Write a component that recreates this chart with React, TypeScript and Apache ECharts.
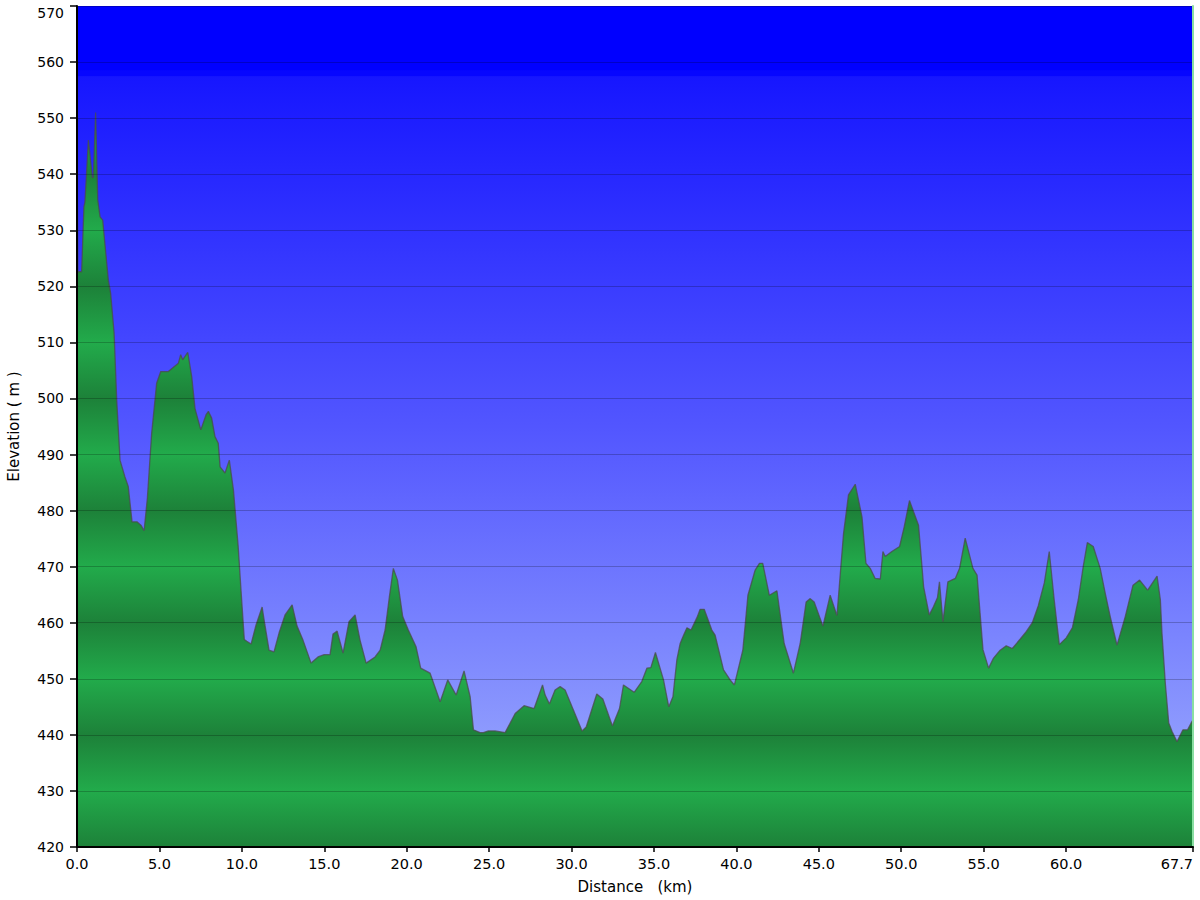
import React, { useEffect, useRef } from 'react';
import * as echarts from 'echarts';

// Distance along route (km)
const distKm = [0, 0.05, 0.28, 0.42, 0.48, 0.69, 0.93, 0.99, 1.13, 1.26, 1.40, 1.56, 1.90, 2.04, 2.25, 2.41, 2.61, 2.91, 3.11, 3.34, 3.64, 3.88, 4.07, 4.27, 4.53, 4.83, 5.08, 5.54, 6.15, 6.29, 6.41, 6.72, 6.96, 7.16, 7.51, 7.83, 7.97, 8.17, 8.37, 8.57, 8.68, 8.98, 9.24, 9.49, 9.77, 9.95, 10.15, 10.3, 10.56, 10.86, 11.23, 11.4, 11.65, 11.95, 12.26, 12.62, 13.05, 13.35, 13.71, 14.2, 14.62, 14.99, 15.35, 15.53, 15.78, 16.14, 16.5, 16.87, 17.17, 17.54, 18.08, 18.39, 18.69, 18.95, 19.19, 19.44, 19.76, 20.1, 20.57, 20.85, 21.42, 22.03, 22.49, 23.0, 23.48, 23.85, 24.05, 24.45, 24.65, 24.96, 25.36, 25.97, 26.58, 27.12, 27.73, 28.24, 28.4, 28.66, 29.0, 29.31, 29.61, 30.12, 30.64, 30.89, 31.53, 31.9, 32.48, 32.91, 33.15, 33.8, 34.26, 34.57, 34.81, 35.09, 35.58, 35.9, 36.15, 36.39, 36.59, 36.77, 37.0, 37.25, 37.62, 37.8, 38.05, 38.51, 38.71, 39.22, 39.62, 39.88, 40.39, 40.7, 41.14, 41.4, 41.6, 42.0, 42.46, 42.9, 43.46, 43.87, 44.23, 44.48, 44.72, 45.25, 45.69, 46.1, 46.5, 46.8, 47.21, 47.62, 47.86, 48.12, 48.42, 48.73, 48.89, 49.03, 49.43, 49.9, 50.18, 50.5, 51.05, 51.36, 51.7, 51.96, 52.2, 52.32, 52.53, 52.83, 53.28, 53.54, 53.88, 54.35, 54.6, 54.96, 55.3, 55.6, 56.0, 56.37, 56.74, 57.22, 57.58, 57.95, 58.31, 58.68, 58.98, 59.28, 59.59, 60.01, 60.38, 60.74, 61.04, 61.29, 61.65, 62.07, 62.38, 62.68, 63.09, 63.59, 64.06, 64.46, 64.95, 65.52, 65.72, 65.82, 66.02, 66.23, 66.43, 66.73, 67.09, 67.37, 67.64, 67.7];

// Elevation (m)
const elevM = [547, 522.6, 522.6, 534.2, 535, 546.1, 539.4, 539.4, 551, 535.4, 532.4, 531.8, 521.1, 518.8, 511.7, 499.7, 489, 486, 484.3, 478, 478, 477.4, 476.4, 482.3, 493.8, 502.7, 504.8, 504.8, 506.3, 507.8, 506.9, 508.2, 503.9, 498.2, 494.4, 497.1, 497.7, 496.5, 493.2, 492, 487.8, 486.7, 489, 483.7, 473.9, 465.8, 457, 456.7, 456.2, 459.6, 462.8, 459.6, 455.1, 454.8, 458.2, 461.4, 463.2, 459.4, 456.9, 452.8, 453.9, 454.3, 454.3, 458.0, 458.5, 454.6, 460.2, 461.4, 456.9, 452.8, 453.9, 455.1, 458.7, 464.6, 469.7, 467.6, 461.1, 458.7, 455.7, 451.9, 451, 445.9, 449.8, 447.1, 451.4, 446.8, 440.9, 440.4, 440.4, 440.7, 440.7, 440.4, 443.8, 445.2, 444.7, 448.9, 447.1, 445.5, 448, 448.6, 448, 444.4, 440.7, 441.4, 447.3, 446.4, 441.6, 444.7, 448.9, 447.6, 449.5, 451.9, 452, 454.7, 449.8, 445, 446.8, 453.4, 456.3, 457.6, 459.1, 458.7, 461, 462.4, 462.4, 458.7, 457.8, 451.6, 449.8, 448.9, 455.1, 464.9, 469.4, 470.6, 470.6, 464.9, 465.7, 456.3, 451, 456.3, 463.7, 464.3, 463.7, 459.4, 464.9, 461.3, 475.9, 482.8, 484.7, 478.9, 470.6, 469.7, 467.9, 467.8, 472.7, 471.8, 472.7, 473.6, 477.1, 481.8, 477.4, 466.4, 461.4, 462.9, 464.5, 467.3, 460.2, 467.3, 467.9, 469.7, 475.1, 469.7, 468.5, 455.2, 451.9, 453.7, 455.1, 455.9, 455.4, 457.1, 458.4, 460, 463, 467.1, 472.7, 464.1, 456.1, 457.3, 459.1, 464.1, 470, 474.3, 473.6, 469.7, 465.2, 461.1, 456, 461.1, 466.7, 467.6, 465.8, 468.3, 464.1, 458.1, 449.2, 442.1, 440.6, 438.8, 440.9, 440.9, 442.4, 442.5];

// Axis ticks
const xTickValues = [0, 5, 10, 15, 20, 25, 30, 35, 40, 45, 50, 55, 60, 67.7];
const yMin = 420;
const yMax = 570;
const yStep = 10;

export default function App() {
  const ref = useRef<HTMLDivElement>(null);

  useEffect(() => {
    if (!ref.current) return;
    const chart = echarts.init(ref.current, null, { renderer: 'svg' });

    const gridTop = 6;
    const gridBottomPx = 847;
    const DARK = '#1d8139';
    const BRIGHT = '#22ab4b';
    const greenStops: { offset: number; color: string }[] = [];
    for (let v = yMax; v >= yMin; v -= yStep) {
      greenStops.push({ offset: (yMax - v) / (yMax - yMin), color: v % 20 === 0 ? DARK : BRIGHT });
    }
    const greenFill = new echarts.graphic.LinearGradient(0, gridTop, 0, gridBottomPx, greenStops, true);

    const skyFill = new echarts.graphic.LinearGradient(0, 0, 0, 1, [
      { offset: 0, color: '#0000ff' },
      { offset: 0.076, color: '#0000ff' },
      { offset: 0.077, color: '#0606ff' },
      { offset: 0.083, color: '#0606ff' },
      { offset: 0.084, color: '#1616ff' },
      { offset: 0.5, color: '#5256ff' },
      { offset: 1, color: '#a3b3fd' },
    ]);

    const font = 'DejaVu Sans';
    const data = distKm.map((d, i) => [d, elevM[i]]);

    chart.setOption({
      animation: false,
      grid: {
        left: 77,
        right: 7,
        top: gridTop,
        bottom: 900 - gridBottomPx,
        show: true,
        backgroundColor: skyFill,
        borderWidth: 0,
        outerBoundsMode: 'none',
      },
      xAxis: {
        type: 'value',
        min: 0,
        max: 67.7,
        name: 'Distance   (km)',
        nameLocation: 'middle',
        nameGap: 32,
        nameTextStyle: { fontFamily: font, fontSize: 15, color: '#000' },
        axisLine: { show: true, onZero: false, lineStyle: { color: '#000', width: 2 } },
        axisTick: { show: true, customValues: xTickValues, length: 5, lineStyle: { color: '#000', width: 1.5 } },
        axisLabel: {
          customValues: xTickValues,
          formatter: (v: number) => v.toFixed(1),
          fontFamily: font,
          fontSize: 14.5,
          color: '#000',
          margin: 9,
          alignMaxLabel: 'right',
        },
        splitLine: { show: false },
        z: 5,
      },
      yAxis: [
        {
          type: 'value',
          min: yMin,
          max: yMax,
          interval: yStep,
          name: 'Elevation ( m )',
          nameLocation: 'middle',
          nameGap: 56,
          nameRotate: 90,
          nameTextStyle: { fontFamily: font, fontSize: 15, color: '#000' },
          axisLine: { show: true, onZero: false, lineStyle: { color: '#000', width: 2 } },
          axisTick: { show: true, length: 7, lineStyle: { color: '#000', width: 1.5 } },
          axisLabel: {
            fontFamily: font,
            fontSize: 14,
            color: '#000',
            margin: 13,
            formatter: (v: number) => (v === yMax ? '{top|' + v + '}' : String(v)),
            rich: {
              top: { fontFamily: font, fontSize: 14, color: '#000', padding: [14, 0, 0, 0] },
            },
          },
          splitLine: { show: true, lineStyle: { color: 'rgba(0,0,0,0.22)', width: 1 } },
          z: 5,
        },
        {
          type: 'value',
          position: 'right',
          min: yMin,
          max: yMax,
          interval: yStep,
          axisLine: { show: true, onZero: false, lineStyle: { color: '#8adea2', width: 2 } },
          axisTick: { show: false },
          axisLabel: { show: false },
          splitLine: { show: false },
          z: 5,
        },
      ],
      series: [
        {
          type: 'line',
          data,
          yAxisIndex: 0,
          symbol: 'none',
          smooth: false,
          lineStyle: { color: 'rgba(75,75,75,0.75)', width: 1.3 },
          areaStyle: { color: greenFill, opacity: 1, origin: 'start' },
          z: 2,
        },
      ],
    });

    return () => chart.dispose();
  }, []);

  return (
    <div
      ref={ref}
      style={{ position: 'absolute', left: 0, top: 0, width: 1200, height: 900, background: '#fff' }}
    />
  );
}
